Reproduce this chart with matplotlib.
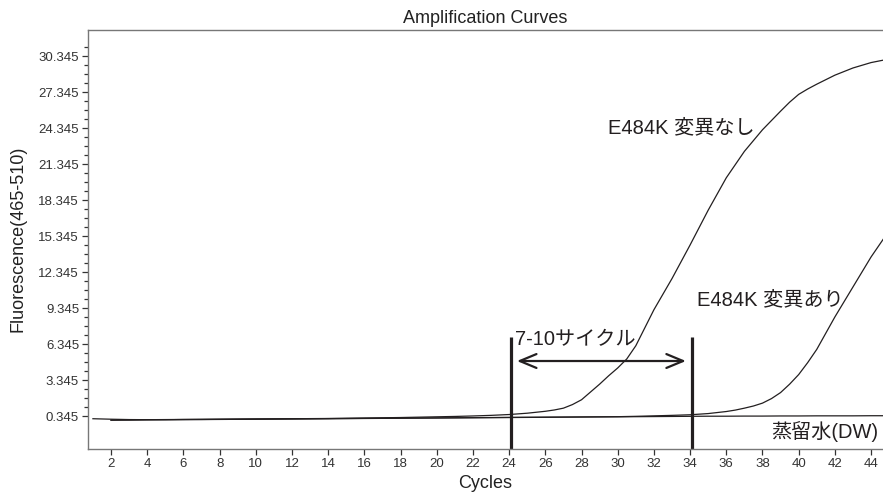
import numpy as np
import matplotlib
matplotlib.use('Agg')
import matplotlib.pyplot as plt
from matplotlib.ticker import FixedLocator

plt.rcParams['font.family'] = ['Liberation Sans', 'Noto Sans CJK JP', 'DejaVu Sans']

# curve data (cycle -> fluorescence)
cycles_dw = list(range(1, 46))
dw = [0.12, 0.08, 0.05, 0.04, 0.04, 0.05, 0.05, 0.06, 0.07, 0.08,
      0.09, 0.10, 0.11, 0.12, 0.13, 0.14, 0.15, 0.16, 0.17, 0.18,
      0.19, 0.20, 0.21, 0.22, 0.23, 0.24, 0.25, 0.26, 0.27, 0.28,
      0.29, 0.30, 0.31, 0.32, 0.33, 0.33, 0.34, 0.34, 0.35, 0.35,
      0.36, 0.36, 0.36, 0.37, 0.37]

# E484K 変異なし
cycles_wild = [2, 3, 4, 5, 6, 7, 8, 9, 10, 11, 12, 13, 14, 15, 16, 17, 18,
               19, 20, 21, 22, 23, 24, 25, 26, 26.5, 27, 27.5, 28, 28.5, 29,
               29.5, 30, 30.5, 31, 31.5, 32, 33, 34, 35, 36, 37, 38, 39,
               39.5, 40, 40.5, 41, 42, 43, 44, 45]
wild = [0.00, 0.02, 0.04, 0.05, 0.06, 0.07, 0.08, 0.09, 0.10, 0.11, 0.12,
        0.13, 0.14, 0.16, 0.18, 0.20, 0.22, 0.25, 0.28, 0.31, 0.35, 0.40,
        0.47, 0.58, 0.74, 0.85, 1.00, 1.30, 1.70, 2.35, 3.00, 3.70, 4.35,
        5.10, 6.20, 7.70, 9.20, 11.80, 14.60, 17.50, 20.20, 22.40, 24.20,
        25.75, 26.50, 27.15, 27.60, 28.00, 28.75, 29.35, 29.80, 30.10]

# E484K 変異あり
cycles_mut = [2, 3, 4, 5, 6, 7, 8, 9, 10, 11, 12, 13, 14, 15, 16, 17, 18,
              19, 20, 21, 22, 23, 24, 25, 26, 27, 28, 29, 30, 31, 32, 33,
              34, 35, 36, 36.5, 37, 37.5, 38, 38.5, 39, 39.5, 40, 40.5, 41,
              42, 43, 44, 45]
mutant = [0.00, 0.01, 0.03, 0.04, 0.05, 0.06, 0.07, 0.08, 0.09, 0.10, 0.11,
          0.12, 0.13, 0.14, 0.15, 0.16, 0.17, 0.18, 0.19, 0.20, 0.21, 0.22,
          0.23, 0.24, 0.25, 0.26, 0.27, 0.28, 0.29, 0.32, 0.36, 0.40, 0.45,
          0.55, 0.72, 0.84, 1.00, 1.18, 1.42, 1.80, 2.30, 3.00, 3.80, 4.80,
          5.90, 8.60, 11.10, 13.60, 15.80]

y_major = [0.345, 3.345, 6.345, 9.345, 12.345, 15.345, 18.345, 21.345,
           24.345, 27.345, 30.345]
x_major = list(range(2, 46, 2))

ct_lines = [24.1, 34.1]
line_top = 6.93
arrow_y = 4.93
arrow_span = (24.43, 33.77)

fig = plt.figure(figsize=(8.83, 4.93), dpi=100)
ax = fig.add_axes([0.0997, 0.0892, 0.9003, 0.8508])

col = '#231f20'
ax.plot(cycles_dw, dw, color=col, lw=0.9)
ax.plot(cycles_wild, wild, color=col, lw=0.9)
ax.plot(cycles_mut, mutant, color=col, lw=0.9)

ax.set_xlim(0.73, 44.66)
ax.set_ylim(-2.405, 32.55)

ax.vlines(ct_lines, -2.405, line_top, color=col, lw=2.3, clip_on=False)
ax.annotate('', xy=(arrow_span[0], arrow_y), xytext=(arrow_span[1], arrow_y),
            arrowprops=dict(arrowstyle='<->,head_length=1.2,head_width=0.5',
                            mutation_scale=10, color=col, lw=1.6,
                            shrinkA=0, shrinkB=0))

ax.text(24.3, 6.68, '7-10サイクル', fontsize=14.5, color=col, va='center')
ax.text(29.46, 24.4, 'E484K 変異なし', fontsize=14.5, color=col, va='center')
ax.text(34.4, 10.0, 'E484K 変異あり', fontsize=14.5, color=col, va='center')
ax.text(38.5, -0.96, '蒸留水(DW)', fontsize=14.5, color=col, va='center')

ax.set_xticks(x_major)
ax.set_yticks(y_major)
ax.set_yticklabels(['%.3f' % v for v in y_major])
ax.yaxis.set_minor_locator(FixedLocator(np.arange(0.345, 31.2, 0.75)))
ax.tick_params(axis='both', which='major', labelsize=9.5, length=4.5,
               width=0.9, color='#333333', labelcolor='#333333', pad=2)
ax.tick_params(axis='y', which='minor', length=3, width=0.9, color='#333333')

for s in ['left', 'bottom', 'top']:
    ax.spines[s].set_color('#777777')
    ax.spines[s].set_linewidth(1.0)
ax.spines['right'].set_visible(False)

ax.set_title('Amplification Curves', fontsize=13, color='#222222', pad=4.5)
ax.set_xlabel('Cycles', fontsize=13, color='#222222', labelpad=3.5)
ax.set_ylabel('Fluorescence(465-510)', fontsize=13, color='#222222', labelpad=8.5)

fig.savefig('out.png', dpi=100)
